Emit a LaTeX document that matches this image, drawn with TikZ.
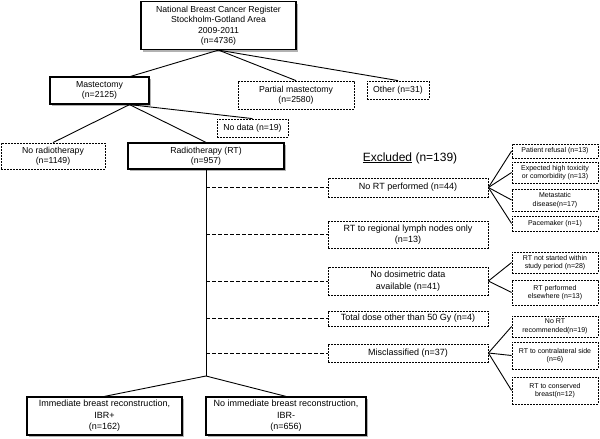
\documentclass[tikz,border=0pt]{standalone}
\usepackage{fontspec}
\setmainfont{Liberation Sans}
\usetikzlibrary{shadows,calc}
\begin{document}
\begin{tikzpicture}[x=1pt,y=-1pt,
  box/.style={draw, line width=1.2pt, fill=white, align=center, inner sep=0pt,
    drop shadow={shadow xshift=2pt, shadow yshift=-2pt, fill=black, opacity=0.3}},
  dbox/.style={draw, line width=0.8pt, dash pattern=on 2pt off 1pt, fill=white, align=center, inner sep=0pt},
  conn/.style={line width=0.9pt},
  dconn/.style={line width=0.9pt, dash pattern=on 3.5pt off 2.5pt},
  fA/.style={font=\fontsize{8.7}{10.5}\selectfont},
  fB/.style={font=\fontsize{9}{11.5}\selectfont},
  fC/.style={font=\fontsize{7}{8.5}\selectfont},
  mid/.style={dbox,fB,minimum width=160pt},
  sml/.style={dbox,fC,minimum width=86pt},
]
\useasboundingbox (0,0) rectangle (600,439);
% main column
\node[box,fA,minimum width=155pt,minimum height=48pt] (top) at (218.5,25.5) {National Breast Cancer Register\\Stockholm-Gotland Area\\2009-2011\\(n=4736)};
\node[box,fA,minimum width=99pt,minimum height=27pt] (mast) at (99.5,90.5) {Mastectomy\\(n=2125)};
\node[dbox,fA,minimum width=116pt,minimum height=28pt] (part) at (296,95) {Partial mastectomy\\(n=2580)};
\node[dbox,fA,minimum width=62pt,minimum height=18pt] (other) at (398,90) {Other (n=31)};
\node[dbox,fA,minimum width=71pt,minimum height=18pt] (nodata) at (252.5,128) {No data (n=19)};
\node[dbox,fA,minimum width=104pt,minimum height=26pt] (norad) at (53,156) {No radiotherapy\\(n=1149)};
\node[box,fA,minimum width=156pt,minimum height=26pt] (rt) at (206,156) {Radiotherapy (RT)\\(n=957)};
\node[font=\fontsize{12}{14}\selectfont] (excl) at (410,158) {\underline{Excluded} (n=139)};
% excluded reasons
\node[mid,minimum height=19pt] (norp) at (408,187.5) {No RT performed (n=44)};
\node[mid,minimum height=27pt] (reg) at (408,234.5) {RT to regional lymph nodes only\\(n=13)};
\node[mid,minimum height=28pt] (dos) at (408,281) {No dosimetric data\\available (n=41)};
\node[mid,minimum height=15pt] (tot) at (408,318.5) {Total dose other than 50 Gy (n=4)};
\node[mid,minimum height=18pt] (mis) at (408,353) {Misclassified (n=37)};
% sub reasons
\node[sml,minimum height=14pt] (pref) at (555,151) {Patient refusal (n=13)};
\node[sml,minimum height=21pt] (tox) at (555,172.5) {Expected high toxicity\\or comorbidity (n=13)};
\node[sml,minimum height=22pt] (meta) at (555,200) {Metastatic\\disease(n=17)};
\node[sml,minimum height=15pt] (pace) at (555,223.5) {Pacemaker (n=1)};
\node[sml,minimum height=21pt] (rtns) at (555,262.5) {RT not started within\\study period (n=28)};
\node[sml,minimum height=25pt] (rtpe) at (555,292.5) {RT performed\\elsewhere (n=13)};
\node[sml,minimum height=21pt] (norec) at (555,326.5) {No RT\\recommended(n=19)};
\node[sml,minimum height=27pt] (contra) at (555,355.5) {RT to contralateral side\\(n=6)};
\node[sml,minimum height=27pt] (cons) at (555,390.5) {RT to conserved\\breast(n=12)};
% final
\node[box,fB,minimum width=155pt,minimum height=38pt] (ibrp) at (104.5,416) {Immediate breast reconstruction,\\IBR+\\(n=162)};
\node[box,fB,minimum width=160pt,minimum height=38pt] (ibrm) at (286,416) {No immediate breast reconstruction,\\IBR-\\(n=656)};
% connectors
\draw[conn] (top.south) -- ($(mast.north west)!0.81!(mast.north east)$);
\draw[conn] (top.south) -- (part.north);
\draw[conn] (top.south) -- (other.north);
\coordinate (ms) at ($(mast.south west)!0.8!(mast.south east)$);
\draw[conn] (ms) -- (norad.north);
\draw[conn] (ms) -- (rt.north);
\draw[conn] (ms) -- (nodata.north);
\coordinate (j) at (206,376);
\draw[conn] (rt.south) -- (j);
\draw[conn] (j) -- (ibrp.north);
\draw[conn] (j) -- (ibrm.north);
\foreach \n in {norp,reg,dos,tot,mis}{
  \draw[dconn] (rt.south |- \n.west) -- (\n.west);
}
\foreach \n in {pref,tox,meta,pace}{ \draw[conn] (norp.east) -- (\n.west); }
\foreach \n in {rtns,rtpe}{ \draw[conn] (dos.east) -- (\n.west); }
\foreach \n in {norec,contra,cons}{ \draw[conn] (mis.east) -- (\n.west); }
\end{tikzpicture}
\end{document}
